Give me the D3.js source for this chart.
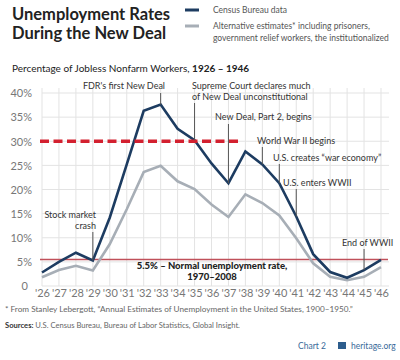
<!DOCTYPE html>
<html><head><meta charset="utf-8">
<script src="https://cdn.jsdelivr.net/npm/d3@7"></script>
<style>
body{margin:0;background:#fff;}
svg{display:block;font-family:Lato,"Open Sans",sans-serif;}
</style></head>
<body><svg id="c" width="400" height="360"></svg>
<script>
const years = ["'26","'27","'28","'29","'30","'31","'32","'33","'34","'35","'36","'37","'38","'39","'40","'41","'42","'43","'44","'45","'46"];
const censusValues = [2.8,5.0,6.9,5.3,14.2,25.2,36.3,37.6,32.6,30.2,25.4,21.3,27.9,25.2,21.3,14.4,6.6,2.9,1.7,3.3,5.4];
const altValues = [1.8,3.3,4.2,3.2,8.7,15.9,23.6,24.9,21.7,20.1,16.9,14.3,19.0,17.2,14.6,9.9,4.7,1.9,1.2,1.9,3.9];
const yTicks = [0,5,10,15,20,25,30,35,40];
const newDealLine = 30;
const normalRate = 5.5;
const annotations = [
  {year:"'33", lines:["FDR's first New Deal"], anchor:"end"},
  {year:"'35", lines:["Supreme Court declares much","of New Deal unconstitutional"], anchor:"start"},
  {year:"'37", lines:["New Deal, Part 2, begins"], anchor:"start"},
  {year:"'39", lines:["World War II begins"], anchor:"start"},
  {year:"'40", lines:["U.S. creates \u201cwar economy\u201d"], anchor:"start"},
  {year:"'41", lines:["U.S. enters WWII"], anchor:"start"},
  {year:"'45", lines:["End of WWII"], anchor:"start"},
  {year:"'29", lines:["Stock market","crash"], anchor:"end"}
];

const svg = d3.select("#c");
const x = d3.scalePoint().domain(years).range([42, 381]);
const y = d3.scaleLinear().domain([0, 40]).range([286, 93]);

// Title
svg.append("text").attr("x", 12).attr("y", 20).attr("fill", "#222").attr("font-weight", 700).attr("font-size", 16.5).text("Unemployment Rates");
svg.append("text").attr("x", 12).attr("y", 39).attr("fill", "#222").attr("font-weight", 700).attr("font-size", 16.5).text("During the New Deal");

// Legend
svg.append("line").attr("x1", 185).attr("x2", 199).attr("y1", 10).attr("y2", 10).attr("stroke", "#1d3c61").attr("stroke-width", 3);
svg.append("line").attr("x1", 185).attr("x2", 199).attr("y1", 26).attr("y2", 26).attr("stroke", "#a7aeb6").attr("stroke-width", 3);
svg.append("text").attr("x", 213).attr("y", 13).attr("font-size", 8.5).attr("fill", "#555").text("Census Bureau data");
const lt = svg.append("text").attr("font-size", 8.5).attr("fill", "#555");
lt.append("tspan").attr("x", 213).attr("y", 29).text("Alternative estimates* including prisoners,");
lt.append("tspan").attr("x", 213).attr("y", 41).text("government relief workers, the institutionalized");

// Subtitle
const st = svg.append("text").attr("x", 12).attr("y", 72).attr("font-size", 10).attr("fill", "#222");
st.append("tspan").text("Percentage of Jobless Nonfarm Workers, ");
st.append("tspan").attr("font-weight", 700).text("1926 \u2013 1946");

// Grid
const g = svg.append("g");
g.selectAll(".vg").data(years).join("line")
  .attr("x1", d => x(d)).attr("x2", d => x(d)).attr("y1", 88).attr("y2", y(0))
  .attr("stroke", "#e3e3e3").attr("stroke-width", 1);
g.selectAll(".hg").data(yTicks).join("line")
  .attr("x1", x(years[0])).attr("x2", x(years[years.length-1]) + 8)
  .attr("y1", d => y(d)).attr("y2", d => y(d))
  .attr("stroke", "#e3e3e3").attr("stroke-width", 1);

// Y axis labels
const yAxis = d3.axisLeft(y).tickValues(yTicks).tickSize(0).tickPadding(0)
  .tickFormat(d => d === 0 ? "0" : d + "%");
const ya = svg.append("g").attr("transform", "translate(32,0)").call(yAxis);
ya.select(".domain").remove();
ya.selectAll("text").attr("font-size", 11).attr("fill", "#777").attr("font-family", "Lato,sans-serif").attr("dy", "0.35em");
ya.selectAll(".tick").filter(d => d === 0).select("text").attr("x", -4);

// X axis labels
const xAxis = d3.axisBottom(x).tickSize(0).tickPadding(0);
const xa = svg.append("g").attr("transform", "translate(0,289)").call(xAxis);
xa.select(".domain").remove();
xa.selectAll("text").attr("font-size", 11).attr("fill", "#777").attr("font-family", "Lato,sans-serif").attr("dy", "0.71em");

// Normal rate line
svg.append("line").attr("x1", 40).attr("x2", 388).attr("y1", y(normalRate)).attr("y2", y(normalRate))
  .attr("stroke", "#c0505a").attr("stroke-width", 1.5);

// Lines
const line = d3.line().x((d, i) => x(years[i])).y(d => y(d));
svg.append("path").datum(altValues).attr("d", line).attr("fill", "none")
  .attr("stroke", "#a7aeb6").attr("stroke-width", 2.6).attr("stroke-linejoin", "miter");
svg.append("path").datum(censusValues).attr("d", line).attr("fill", "none")
  .attr("stroke", "#1d3c61").attr("stroke-width", 2.6).attr("stroke-linejoin", "miter");

// 30% dashed line
svg.append("line").attr("x1", 40).attr("x2", 238).attr("y1", y(newDealLine)).attr("y2", y(newDealLine))
  .attr("stroke", "#d3202f").attr("stroke-width", 3.5).attr("stroke-dasharray", "9,4.5");

// Normal rate label
const nl = svg.append("text").attr("font-size", 9.5).attr("font-weight", 900).attr("fill", "#222").attr("text-anchor", "middle");
nl.append("tspan").attr("x", 212).attr("y", 269).text("5.5% \u2013 Normal unemployment rate,");
nl.append("tspan").attr("x", 212).attr("y", 280).text("1970\u20132008");

// Annotations
const annPos = {
  "'33": {tx: 165, ty: [89], y1: 93},
  "'35": {tx: 192, ty: [89, 100], y1: 103},
  "'37": {tx: 215, ty: [120], y1: 124},
  "'39": {tx: 257, ty: [144], y1: 147},
  "'40": {tx: 273, ty: [161], y1: 164},
  "'41": {tx: 283, ty: [186], y1: 189},
  "'45": {tx: 342, ty: [246], y1: 249},
  "'29": {tx: 96, ty: [218, 229], y1: 232}
};
annotations.forEach(a => {
  const p = annPos[a.year];
  const i = years.indexOf(a.year);
  svg.append("line").attr("x1", x(a.year)).attr("x2", x(a.year))
    .attr("y1", p.y1).attr("y2", y(censusValues[i]))
    .attr("stroke", "#555").attr("stroke-width", 1);
  const t = svg.append("text").attr("font-size", 9).attr("fill", "#333").attr("text-anchor", a.anchor);
  a.lines.forEach((l, k) => t.append("tspan").attr("x", p.tx).attr("y", p.ty[k]).text(l));
});

// Footnotes
svg.append("text").attr("x", 5).attr("y", 312).attr("font-size", 8.2).attr("fill", "#666")
  .text("* From Stanley Lebergott, \u201cAnnual Estimates of Unemployment in the United States, 1900\u20131950.\u201d");
const src = svg.append("text").attr("x", 5).attr("y", 328).attr("font-size", 7.6).attr("fill", "#666");
src.append("tspan").attr("font-weight", 700).attr("fill", "#333").text("Sources: ");
src.append("tspan").text("U.S. Census Bureau, Bureau of Labor Statistics, Global Insight.");

// Branding
svg.append("text").attr("x", 298).attr("y", 349).attr("font-size", 8.5).attr("fill", "#3a6a9a").text("Chart 2");
svg.append("rect").attr("x", 338).attr("y", 342).attr("width", 8).attr("height", 7).attr("fill", "#2d5d8d");
svg.append("text").attr("x", 351).attr("y", 349).attr("font-size", 8.5).attr("fill", "#3a6a9a").text("heritage.org");
</script></body></html>
